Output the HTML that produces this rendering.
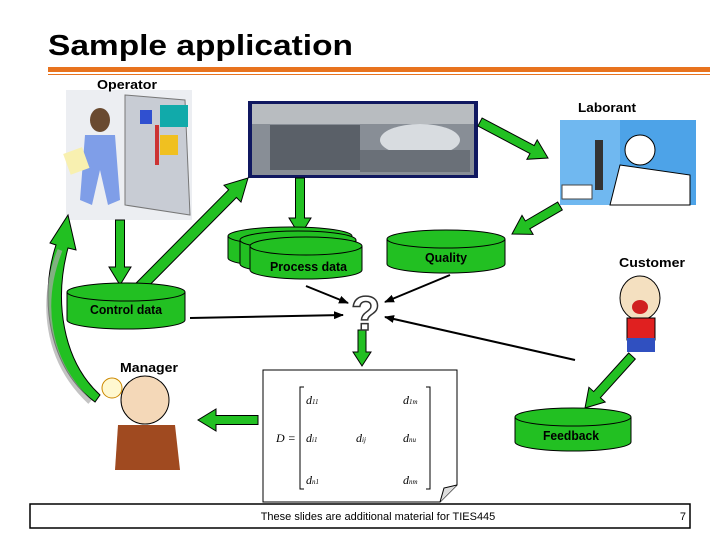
<!DOCTYPE html>
<html><head><meta charset="utf-8"><style>
body{margin:0;background:#fff;}
svg{display:block;font-family:"Liberation Sans",sans-serif;}
.lbl{font-size:13px;font-weight:bold;}
</style></head><body>
<svg id="s" width="720" height="540" viewBox="0 0 720 540" xmlns="http://www.w3.org/2000/svg">
<defs>
<marker id="ah" markerWidth="10" markerHeight="8" refX="9" refY="4" orient="auto" markerUnits="userSpaceOnUse"><path d="M0,0 L10,4 L0,8 z" fill="#000"/></marker>
</defs>
<text x="48" y="55" font-size="29" font-weight="bold" textLength="305" lengthAdjust="spacingAndGlyphs">Sample application</text>
<rect x="48" y="67" width="662" height="5" fill="#e8731e"/>
<rect x="48" y="74" width="662" height="1" fill="#e8731e"/>

<!-- operator picture -->
<rect x="66" y="90" width="126" height="130" fill="#eceef2"/>
<polygon points="125,95 185,100 190,215 125,205" fill="#c8ccd4" stroke="#777"/>
<rect x="140" y="110" width="12" height="14" fill="#3050d0"/>
<rect x="160" y="105" width="28" height="22" fill="#1aa" />
<rect x="160" y="135" width="18" height="20" fill="#f0c020"/>
<rect x="155" y="125" width="4" height="40" fill="#c33"/>
<ellipse cx="100" cy="120" rx="10" ry="12" fill="#6a4a30"/>
<path d="M85,135 L115,135 L120,200 L108,205 L100,170 L92,205 L80,200 z" fill="#7f9ee8"/>
<rect x="66" y="150" width="20" height="22" fill="#f8f0b0" transform="rotate(-20 76 160)"/>
<text x="97" y="89" class="lbl" textLength="60" lengthAdjust="spacingAndGlyphs">Operator</text>

<!-- photo -->
<rect x="248" y="101" width="230" height="77" fill="#101860"/>
<rect x="252" y="104" width="222" height="71" fill="#888e96"/>
<rect x="252" y="104" width="222" height="20" fill="#b8bcc0"/>
<rect x="270" y="125" width="90" height="45" fill="#5a6068"/>
<ellipse cx="420" cy="140" rx="40" ry="16" fill="#d8dce0"/>
<rect x="360" y="150" width="110" height="22" fill="#6a7078"/>

<!-- laborant -->
<rect x="560" y="120" width="136" height="85" fill="#4da3e8"/>
<rect x="560" y="120" width="60" height="85" fill="#70b8f0"/>
<ellipse cx="640" cy="150" rx="15" ry="15" fill="#fff" stroke="#000"/>
<path d="M620,165 L690,175 L690,205 L610,205 z" fill="#fff" stroke="#000"/>
<rect x="595" y="140" width="8" height="50" fill="#333"/>
<rect x="562" y="185" width="30" height="14" fill="#fff" stroke="#444"/>
<text x="578" y="112" class="lbl" textLength="58" lengthAdjust="spacingAndGlyphs">Laborant</text>

<g id="arrows" fill="#22c022" stroke="#000" stroke-width="1"></g>

<!-- big curved arrow -->
<path d="M95,402 C50,370 38,300 56,245 L50,243 L68,215 L76,250 L68,248 C54,300 62,360 100,395 z" fill="#22c022" stroke="#000"/>
<path d="M60,250 C40,300 45,360 90,402" fill="none" stroke="#aaa" stroke-width="5" opacity="0.7"/>

<!-- cylinders -->
<g fill="#22c022" stroke="#000">
<path d="M228,236 v22 a62,9 0 0 0 124,0 v-22"/><ellipse cx="290" cy="236" rx="62" ry="9"/>
<path d="M240,240 v24 a58,9 0 0 0 116,0 v-24"/><ellipse cx="298" cy="240" rx="58" ry="9"/>
<path d="M250,246 v24 a56,9 0 0 0 112,0 v-24"/><ellipse cx="306" cy="246" rx="56" ry="9"/>
<path d="M387,239 v25 a59,9 0 0 0 118,0 v-25"/><ellipse cx="446" cy="239" rx="59" ry="9"/>
<path d="M67,292 v28 a59,9 0 0 0 118,0 v-28"/><ellipse cx="126" cy="292" rx="59" ry="9"/>
<path d="M515,417 v25 a58,9 0 0 0 116,0 v-25"/><ellipse cx="573" cy="417" rx="58" ry="9"/>
</g>
<text x="270" y="271" class="lbl" font-size="12" textLength="77" lengthAdjust="spacingAndGlyphs">Process data</text>
<text x="425" y="262" class="lbl" font-size="12" textLength="42" lengthAdjust="spacingAndGlyphs">Quality</text>
<text x="90" y="314" class="lbl" font-size="12" textLength="72" lengthAdjust="spacingAndGlyphs">Control data</text>
<text x="543" y="440" class="lbl" font-size="12" textLength="56" lengthAdjust="spacingAndGlyphs">Feedback</text>
<text x="619" y="267" class="lbl" textLength="66" lengthAdjust="spacingAndGlyphs">Customer</text>
<text x="120" y="372" class="lbl" textLength="58" lengthAdjust="spacingAndGlyphs">Manager</text>

<!-- ? -->
<text x="351" y="330" font-size="48" font-weight="bold" fill="#fff" stroke="#333" stroke-width="1.5">?</text>

<!-- black arrows -->
<g stroke="#000" stroke-width="2" marker-end="url(#ah)">
<line x1="306" y1="286" x2="348" y2="303"/>
<line x1="450" y1="275" x2="385" y2="302"/>
<line x1="190" y1="318" x2="343" y2="315"/>
<line x1="575" y1="360" x2="385" y2="317"/>
</g>

<!-- customer -->
<ellipse cx="640" cy="298" rx="20" ry="22" fill="#f4e0c0" stroke="#000"/>
<ellipse cx="640" cy="307" rx="8" ry="7" fill="#d02020"/>
<rect x="627" y="318" width="28" height="22" fill="#e02020" stroke="#000"/>
<rect x="627" y="338" width="28" height="14" fill="#3050c0"/>

<!-- manager -->
<ellipse cx="145" cy="400" rx="24" ry="24" fill="#f4d8b8" stroke="#000"/>
<path d="M118,425 L175,425 L180,470 L115,470 z" fill="#a04a20"/>
<circle cx="112" cy="388" r="10" fill="#fff8d0" stroke="#c80"/>

<!-- matrix doc -->
<path d="M263,370 L457,370 L457,485 L440,502 L263,502 z" fill="#fff" stroke="#000"/>
<path d="M440,502 L444,488 L457,485" fill="#ddd" stroke="#000"/>
<g font-family="Liberation Serif,serif" font-size="12" font-style="italic">
<text x="276" y="442">D =</text>
<text x="306" y="404">d<tspan font-size="7">11</tspan></text>
<text x="403" y="404">d<tspan font-size="7">1m</tspan></text>
<text x="306" y="442">d<tspan font-size="7">i1</tspan></text>
<text x="356" y="442">d<tspan font-size="7">ij</tspan></text>
<text x="403" y="442">d<tspan font-size="7">nu</tspan></text>
<text x="306" y="484">d<tspan font-size="7">n1</tspan></text>
<text x="403" y="484">d<tspan font-size="7">nm</tspan></text>
</g>
<path d="M304,387 h-4 v102 h4 M426,387 h4 v102 h-4" fill="none" stroke="#000"/>

<!-- footer -->
<rect x="30" y="504" width="660" height="24" fill="#fff" stroke="#000" stroke-width="1.5"/>
<text x="378" y="520" font-size="11" text-anchor="middle">These slides are additional material for TIES445</text>
<text x="686" y="520" font-size="11" text-anchor="end">7</text>
</svg>
<script>
function arr(x1,y1,x2,y2,w,hw,hl){
 var dx=x2-x1,dy=y2-y1,L=Math.hypot(dx,dy),ux=dx/L,uy=dy/L,px=-uy,py=ux;
 var bx=x2-ux*hl,by=y2-uy*hl;
 var p=[[x1+px*w/2,y1+py*w/2],[bx+px*w/2,by+py*w/2],[bx+px*hw/2,by+py*hw/2],[x2,y2],[bx-px*hw/2,by-py*hw/2],[bx-px*w/2,by-py*w/2],[x1-px*w/2,y1-py*w/2]];
 var e=document.createElementNS("http://www.w3.org/2000/svg","polygon");
 e.setAttribute("points",p.map(function(q){return q[0].toFixed(1)+","+q[1].toFixed(1)}).join(" "));
 document.getElementById("arrows").appendChild(e);
}
arr(120,220,120,285,9,22,18);
arr(135,292,248,178,11,24,22);
arr(300,178,300,236,9,22,18);
arr(480,122,548,158,9,22,18);
arr(560,206,512,234,9,22,18);
arr(362,330,362,366,8,18,14);
arr(632,356,585,408,9,22,18);
arr(258,420,198,420,9,22,18);
</script>
</body></html>
